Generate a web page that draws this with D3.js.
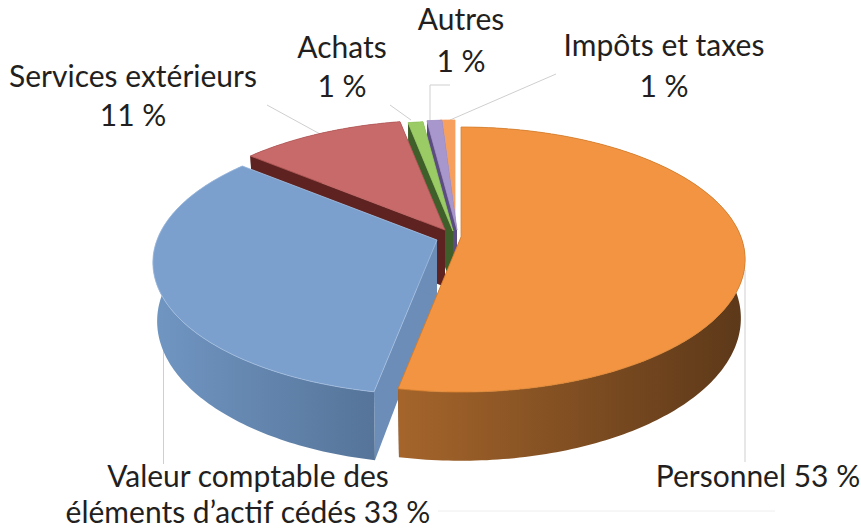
<!DOCTYPE html>
<html>
<head>
<meta charset="utf-8">
<script src="https://cdn.jsdelivr.net/npm/d3@7"></script>
<style>
  html, body { margin: 0; background: #fff; }
  text { font-family: "Lato", sans-serif; font-size: 30px; fill: #231f20; text-anchor: middle; }
</style>
</head>
<body>
<div id="chart-area"></div>
<script>
const WIDTH = 861
const HEIGHT = 529

// Data, clockwise from the top
const categories = ["Personnel", "Valeur comptable des éléments d’actif cédés", "Services extérieurs", "Achats", "Autres", "Impôts et taxes"]
const shares = [53, 33, 11, 1, 1, 1]

// Styles
const topColors = ["#f29441", "#7ba0cd", "#c96a6a", "#9bcb64", "#a897cc", "#f7a05e"]
const edgeColors = ["#d9822f", "#a3bee0", "#b85d5d", "#9bcb64", "#a897cc", "#f7a05e"]
const faceColors = ["#6b4020", "#6b8db8", "#5e2320", "#3e5e2a", "#5c4d80", "#8a5426"]
const sideLeft = ["#a5652b", "#7096c2", "#5e2320", "#3e5e2a", "#5c4d80", "#8a5426"]
const sideRight = ["#5c3819", "#567499", "#5e2320", "#3e5e2a", "#5c4d80", "#8a5426"]

// Where each exploded slice has its apex
const apexX = [461, 437, 445, 453, 457, 455]
const apexY = [237, 240, 230, 231, 230, 230]

// Perspective of the disc
const RX = 280
const RY = 128.7
const TILT = 0.17
const DEPTH = 57

const svg = d3.select("#chart-area").append("svg")
    .attr("width", WIDTH)
    .attr("height", HEIGHT)
    .style("display", "block")

const defs = svg.append("defs")

// Leader lines
const leaders = [
    [[163.5, 340], [163.5, 464]],
    [[745, 270], [745, 462]],
    [[267, 105], [320, 134]],
    [[390, 105], [411, 120]],
    [[430, 85], [430, 120]],
    [[430, 85], [450, 85]],
    [[450, 120], [556, 74]]
]
const lineGen = d3.line()

svg.selectAll(".leader")
    .data(leaders)
    .enter().append("path")
    .attr("class", "leader")
    .attr("d", lineGen)
    .attr("fill", "none")
    .attr("stroke", "#cfcfcf")
    .attr("stroke-width", 1)

svg.append("path")
    .attr("d", lineGen([[438, 511], [775, 511]]))
    .attr("stroke", "#eeeeee")
    .attr("stroke-width", 1)

// Angles come from d3.pie
const arcs = d3.pie().sort(null).value(d => d)(shares)

function project(i, angle, r, z) {
    const u = Math.sin(angle) * r
    const v = Math.cos(angle) * r
    const w = 1 + TILT * v
    return [
        apexX[i] + RX * (1 - 0.015 * z) * u / w,
        apexY[i] + (z * DEPTH - RY * v) / w
    ]
}

function rim(i, d, r, z) {
    const steps = Math.max(4, Math.ceil((d.endAngle - d.startAngle) * 60))
    return d3.range(steps + 1).map(s => {
        const a = d.startAngle + (d.endAngle - d.startAngle) * s / steps
        return project(i, a, r, z)
    })
}

function radialFace(i, angle) {
    return [project(i, angle, 0, 0), project(i, angle, 1, 0), project(i, angle, 1, 1), project(i, angle, 0, 1)]
}

// Back slices first so the front ones paint over them
const order = d3.range(arcs.length).reverse()

order.forEach(i => {
    const d = arcs[i]
    const g = svg.append("g").attr("class", "slice").attr("data-name", categories[i])

    const top = rim(i, d, 1, 0)
    const xs = d3.extent(top, p => p[0])
    const grad = defs.append("linearGradient")
        .attr("id", "side" + i)
        .attr("gradientUnits", "userSpaceOnUse")
        .attr("x1", xs[0]).attr("x2", xs[1])
        .attr("y1", 0).attr("y2", 0)
    grad.append("stop").attr("offset", 0).attr("stop-color", sideLeft[i])
    grad.append("stop").attr("offset", 1).attr("stop-color", sideRight[i])

    g.append("path")
        .attr("d", lineGen(radialFace(i, d.startAngle)) + "Z")
        .attr("fill", faceColors[i])
    g.append("path")
        .attr("d", lineGen(radialFace(i, d.endAngle)) + "Z")
        .attr("fill", faceColors[i])
    g.append("path")
        .attr("d", lineGen(top.concat(rim(i, d, 1, 1).reverse())) + "Z")
        .attr("fill", `url(#side${i})`)
    g.append("path")
        .attr("d", lineGen([project(i, 0, 0, 0)].concat(top)) + "Z")
        .attr("fill", topColors[i])
        .attr("stroke", edgeColors[i])
        .attr("stroke-width", 0.8)
        .attr("stroke-linejoin", "round")
})

// Labels
const labelLines = [
    ["Personnel 53 %"],
    ["Valeur comptable des", "éléments d’actif cédés 33 %"],
    ["Services extérieurs", "11 %"],
    ["Achats", "1 %"],
    ["Autres", "1 %"],
    ["Impôts et taxes", "1 %"]
]
const labelX = [758, 248, 133, 342, 461, 664]
const labelY = [487, 487, 87, 58, 30, 56]
const labelGap = [0, 36, 39, 39, 42, 41]

labelLines.forEach((lines, i) => {
    const t = svg.append("text").attr("class", "label")
    lines.forEach((s, k) => {
        t.append("tspan")
            .attr("x", labelX[i])
            .attr("y", labelY[i] + k * labelGap[i])
            .text(s)
    })
})
</script>
</body>
</html>
